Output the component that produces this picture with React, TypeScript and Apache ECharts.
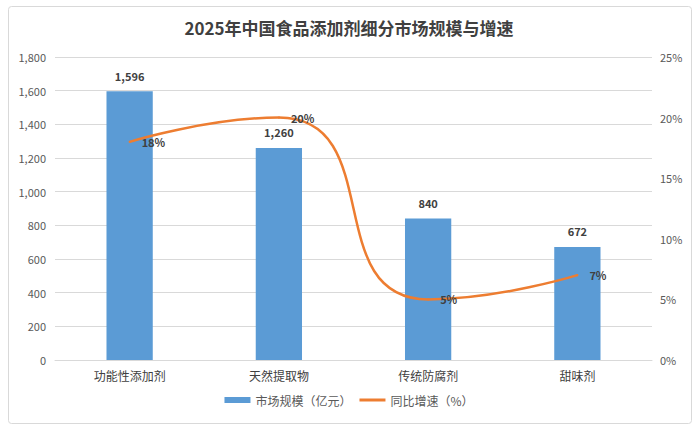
import React, { useEffect, useRef } from "react";
import * as echarts from "echarts";

const categories = ["功能性添加剂", "天然提取物", "传统防腐剂", "甜味剂"];
const marketSize = [1596, 1260, 840, 672];
const growthRate = [18, 20, 5, 7];
const leftTicks = [0, 1800, 200];
const rightTicks = [0, 25, 5];

export default function App() {
  const ref = useRef<HTMLDivElement>(null);
  useEffect(() => {
    const chart = echarts.init(ref.current!, null, { renderer: "svg" });
    const font = "'Noto Sans CJK SC', 'Microsoft YaHei', sans-serif";
    chart.setOption({
      animation: false,
      textStyle: { fontFamily: font },
      title: {
        text: "2025年中国食品添加剂细分市场规模与增速",
        left: "center",
        top: 14,
        textStyle: { fontSize: 17, fontWeight: "bold", color: "#404040", fontFamily: font },
      },
      graphic: [
        {
          type: "rect",
          shape: { x: 8.5, y: 6.5, width: 683, height: 417, r: 3 },
          style: { fill: "none", stroke: "#d9d9d9", lineWidth: 1 },
          z: -1,
        },
      ],
      grid: { left: 55, right: 46, top: 57, bottom: 71, containLabel: false },
      legend: {
        bottom: 20,
        left: "center",
        itemWidth: 26,
        itemHeight: 6,
        itemGap: 8,
        textStyle: { color: "#595959", fontSize: 12, fontFamily: font },
        data: [
          { name: "市场规模（亿元）", icon: "rect" },
          {
            name: "同比增速（%）",
            icon: "path://M0,0 L26,0 L26,3 L0,3 Z",
            itemStyle: { color: "#ED7D31", opacity: 1 },
          },
        ],
      },
      xAxis: {
        type: "category",
        data: categories,
        axisLine: { lineStyle: { color: "#d9d9d9" } },
        axisTick: { show: false },
        axisLabel: { color: "#404040", fontSize: 12, margin: 9 },
      },
      yAxis: [
        {
          type: "value",
          min: leftTicks[0],
          max: leftTicks[1],
          interval: leftTicks[2],
          axisLabel: {
            color: "#595959",
            fontSize: 11,
            margin: 9,
            formatter: (v: number) => v.toLocaleString("en-US"),
          },
          splitLine: { lineStyle: { color: "#d9d9d9" } },
          axisLine: { show: false },
          axisTick: { show: false },
        },
        {
          type: "value",
          min: rightTicks[0],
          max: rightTicks[1],
          interval: rightTicks[2],
          axisLabel: { color: "#595959", fontSize: 11, margin: 8, formatter: "{value}%" },
          splitLine: { show: false },
          axisLine: { show: false },
          axisTick: { show: false },
        },
      ],
      series: [
        {
          name: "市场规模（亿元）",
          type: "bar",
          data: marketSize,
          barWidth: "31%",
          itemStyle: { color: "#5B9BD5" },
          label: {
            show: true,
            position: "top",
            distance: 10,
            color: "#404040",
            fontWeight: "bold",
            fontSize: 11,
            formatter: (p: any) => p.value.toLocaleString("en-US"),
          },
        },
        {
          name: "同比增速（%）",
          type: "line",
          yAxisIndex: 1,
          data: growthRate,
          smooth: 0.6,
          showSymbol: true,
          symbol: "circle",
          symbolSize: 2,
          lineStyle: { color: "#ED7D31", width: 2.5 },
          itemStyle: { color: "#ED7D31" },
          label: {
            show: true,
            position: "right",
            distance: 11,
            color: "#404040",
            fontWeight: "bold",
            fontSize: 11,
            formatter: "{c}%",
          },
        },
      ],
    });
    return () => chart.dispose();
  }, []);
  return (
    <div
      ref={ref}
      style={{ position: "absolute", left: 0, top: 0, width: 698, height: 431 }}
    />
  );
}
